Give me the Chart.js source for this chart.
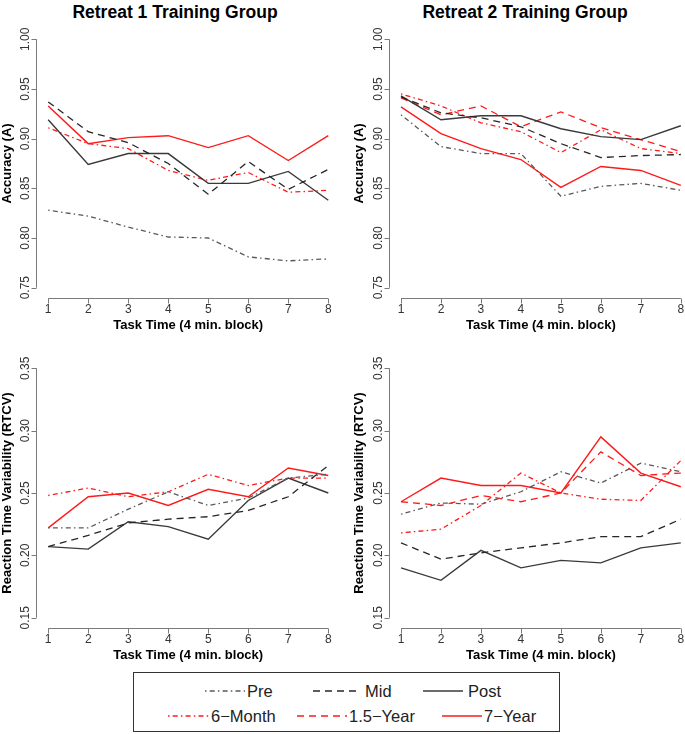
<!DOCTYPE html>
<html>
<head>
<meta charset="utf-8">
<script src="https://cdn.jsdelivr.net/npm/chart.js@4"></script>
<style>
html,body{margin:0;padding:0;width:685px;height:734px;overflow:hidden;background:#fff;font-family:"Liberation Sans",Arial,Helvetica,sans-serif;}
canvas{position:absolute;}
.title{position:absolute;top:2px;font-weight:bold;font-size:17.5px;line-height:20px;color:#000;white-space:nowrap;transform:translateX(-50%);}
#legend{position:absolute;left:133px;top:672px;}
</style>
</head>
<body>
<div class="title" style="left:175px">Retreat 1 Training Group</div>
<div class="title" style="left:525px">Retreat 2 Training Group</div>
<canvas id="c1" width="345" height="340" style="left:0;top:0"></canvas>
<canvas id="c2" width="355" height="340" style="left:345px;top:0"></canvas>
<canvas id="c3" width="345" height="330" style="left:0;top:340px"></canvas>
<canvas id="c4" width="355" height="330" style="left:345px;top:340px"></canvas>
<svg id="legend" width="428" height="61" xmlns="http://www.w3.org/2000/svg"></svg>
<script>
// ---------- data ----------
const blocks = [1, 2, 3, 4, 5, 6, 7, 8];
const xTickLabels = ['1', '2', '3', '4', '5', '6', '7', '8'];
const accTickLabels = ['0.75', '0.80', '0.85', '0.90', '0.95', '1.00'];
const rtcvTickLabels = ['0.15', '0.20', '0.25', '0.30', '0.35'];
const seriesNames = ['Pre', 'Mid', 'Post', '6\u2212Month', '1.5\u2212Year', '7\u2212Year'];

// Retreat 1 – Accuracy
const r1AccPre  = [0.828, 0.822, 0.811, 0.801, 0.800, 0.781, 0.777, 0.779];
const r1AccMid  = [0.937, 0.907, 0.896, 0.875, 0.844, 0.877, 0.849, 0.869];
const r1AccPost = [0.919, 0.874, 0.885, 0.885, 0.855, 0.855, 0.867, 0.838];
const r1Acc6M   = [0.911, 0.895, 0.890, 0.868, 0.858, 0.866, 0.846, 0.848];
const r1Acc7Y   = [0.933, 0.895, 0.901, 0.903, 0.891, 0.903, 0.878, 0.903];

// Retreat 2 – Accuracy
const r2AccPre  = [0.924, 0.892, 0.885, 0.885, 0.842, 0.852, 0.855, 0.848];
const r2AccMid  = [0.942, 0.926, 0.921, 0.912, 0.895, 0.881, 0.883, 0.884];
const r2AccPost = [0.943, 0.919, 0.923, 0.923, 0.910, 0.902, 0.899, 0.913];
const r2Acc6M   = [0.945, 0.933, 0.916, 0.907, 0.886, 0.909, 0.890, 0.885];
const r2Acc15Y  = [0.941, 0.924, 0.933, 0.912, 0.927, 0.911, 0.899, 0.887];
const r2Acc7Y   = [0.932, 0.905, 0.890, 0.879, 0.851, 0.872, 0.868, 0.853];

// Retreat 1 – RTCV
const r1RtPre  = [0.222, 0.222, 0.237, 0.251, 0.240, 0.246, 0.262, 0.265];
const r1RtMid  = [0.207, 0.216, 0.226, 0.229, 0.231, 0.236, 0.247, 0.272];
const r1RtPost = [0.207, 0.205, 0.227, 0.223, 0.213, 0.244, 0.262, 0.250];
const r1Rt6M   = [0.248, 0.254, 0.247, 0.251, 0.265, 0.256, 0.262, 0.262];
const r1Rt7Y   = [0.222, 0.247, 0.250, 0.240, 0.253, 0.247, 0.270, 0.264];

// Retreat 2 – RTCV
const r2RtPre  = [0.233, 0.242, 0.241, 0.251, 0.267, 0.258, 0.274, 0.267];
const r2RtMid  = [0.210, 0.197, 0.202, 0.206, 0.210, 0.215, 0.215, 0.229];
const r2RtPost = [0.190, 0.180, 0.204, 0.190, 0.196, 0.194, 0.206, 0.210];
const r2Rt6M   = [0.218, 0.221, 0.240, 0.266, 0.250, 0.245, 0.244, 0.276];
const r2Rt15Y  = [0.243, 0.240, 0.248, 0.243, 0.250, 0.283, 0.264, 0.266];
const r2Rt7Y   = [0.243, 0.262, 0.256, 0.256, 0.250, 0.295, 0.266, 0.255];

// ---------- styles ----------
const DOTDASH = [1.5, 3.2, 5, 3.2];
const DASHED = [7, 5];
const styles = {
  'Pre':         {color: '#5a5a5a', dash: DOTDASH, width: 1.3},
  'Mid':         {color: '#262626', dash: DASHED,  width: 1.3},
  'Post':        {color: '#3a3a3a', dash: [],      width: 1.4},
  '6\u2212Month':{color: '#ff1a1a', dash: DOTDASH, width: 1.3},
  '1.5\u2212Year':{color: '#ff1a1a', dash: DASHED, width: 1.3},
  '7\u2212Year': {color: '#ff1a1a', dash: [],      width: 1.4}
};
const FONT = '"Liberation Sans", Arial, Helvetica, sans-serif';

const rAxes = {
  id: 'rAxes',
  afterDraw(chart, args, o) {
    const ctx = chart.ctx, xs = chart.scales.x, ys = chart.scales.y, ca = chart.chartArea;
    ctx.save();
    ctx.strokeStyle = '#7a7a7a';
    ctx.lineWidth = 1;
    // x axis
    const yb = Math.round(ca.bottom) + 0.5;
    const xa = xs.getPixelForValue(Number(xTickLabels[0]));
    const xb = xs.getPixelForValue(Number(xTickLabels[xTickLabels.length - 1]));
    ctx.beginPath();
    ctx.moveTo(xa, yb); ctx.lineTo(xb, yb);
    xTickLabels.forEach(t => { const p = Math.round(xs.getPixelForValue(Number(t))) + 0.5; ctx.moveTo(p, yb); ctx.lineTo(p, yb + 5); });
    // y axis
    const xl = Math.round(ca.left) - 0.5;
    const ya = ys.getPixelForValue(Number(o.yTicks[0]));
    const yz = ys.getPixelForValue(Number(o.yTicks[o.yTicks.length - 1]));
    ctx.moveTo(xl, ya); ctx.lineTo(xl, yz);
    o.yTicks.forEach(t => { const p = Math.round(ys.getPixelForValue(Number(t))) + 0.5; ctx.moveTo(xl, p); ctx.lineTo(xl - 5, p); });
    ctx.stroke();
    // tick labels
    ctx.fillStyle = '#333';
    ctx.font = '12px ' + FONT;
    ctx.textAlign = 'center';
    ctx.textBaseline = 'middle';
    xTickLabels.forEach(t => ctx.fillText(t, xs.getPixelForValue(Number(t)), yb + 11));
    o.yTicks.forEach(t => {
      ctx.save();
      ctx.translate(xl - 10.5, ys.getPixelForValue(Number(t)));
      ctx.rotate(-Math.PI / 2);
      ctx.fillText(t, 0, 0);
      ctx.restore();
    });
    // axis titles
    ctx.fillStyle = '#000';
    ctx.font = 'bold 13px ' + FONT;
    ctx.fillText(o.xTitle, (ca.left + ca.right) / 2, ca.bottom + 27.5);
    ctx.save();
    ctx.translate(ca.left - 30, (ca.top + ca.bottom) / 2);
    ctx.rotate(-Math.PI / 2);
    ctx.fillText(o.yTitle, 0, 0);
    ctx.restore();
    ctx.restore();
  }
};

function makeChart(id, series, yMin, yMax, yTicks, yTitle, pad) {
  const datasets = series.map(([name, vals]) => ({
    label: name,
    data: blocks.map((b, i) => ({x: b, y: vals[i]})),
    borderColor: styles[name].color,
    borderDash: styles[name].dash,
    borderWidth: styles[name].width,
    pointRadius: 0,
    fill: false,
    tension: 0
  }));
  return new Chart(document.getElementById(id), {
    type: 'line',
    data: {datasets},
    options: {
      responsive: false,
      animation: false,
      devicePixelRatio: 1,
      layout: {padding: pad},
      plugins: {
        legend: {display: false},
        tooltip: {enabled: false},
        rAxes: {yTicks, yTitle, xTitle: 'Task Time (4 min. block)'}
      },
      scales: {
        x: {type: 'linear', min: 0.72, max: 8.28, display: false},
        y: {type: 'linear', min: yMin, max: yMax, display: false}
      }
    },
    plugins: [rAxes]
  });
}

const padTL = {left: 37, right: 5.5, top: 29.4, bottom: 42.4};
const padTR = {left: 44.8, right: 8, top: 29.4, bottom: 42.4};
const padBL = {left: 37, right: 5.5, top: 18.3, bottom: 42.3};
const padBR = {left: 44.8, right: 8, top: 18.3, bottom: 42.3};

makeChart('c1', [['Pre', r1AccPre], ['Mid', r1AccMid], ['Post', r1AccPost], ['6\u2212Month', r1Acc6M], ['7\u2212Year', r1Acc7Y]],
  0.74, 1.01, accTickLabels, 'Accuracy (A)', padTL);
makeChart('c2', [['Pre', r2AccPre], ['Mid', r2AccMid], ['Post', r2AccPost], ['6\u2212Month', r2Acc6M], ['1.5\u2212Year', r2Acc15Y], ['7\u2212Year', r2Acc7Y]],
  0.74, 1.01, accTickLabels, 'Accuracy (A)', padTR);
makeChart('c3', [['Pre', r1RtPre], ['Mid', r1RtMid], ['Post', r1RtPost], ['6\u2212Month', r1Rt6M], ['7\u2212Year', r1Rt7Y]],
  0.142, 0.358, rtcvTickLabels, 'Reaction Time Variability (RTCV)', padBL);
makeChart('c4', [['Pre', r2RtPre], ['Mid', r2RtMid], ['Post', r2RtPost], ['6\u2212Month', r2Rt6M], ['1.5\u2212Year', r2Rt15Y], ['7\u2212Year', r2Rt7Y]],
  0.142, 0.358, rtcvTickLabels, 'Reaction Time Variability (RTCV)', padBR);

// ---------- legend ----------
const legendLayout = [
  {x0: 72, x1: 112, tx: 114, y: 19},
  {x0: 180, x1: 227, tx: 232, y: 19},
  {x0: 290, x1: 330, tx: 335, y: 19},
  {x0: 35, x1: 77, tx: 78, y: 44},
  {x0: 164, x1: 214, tx: 216, y: 44},
  {x0: 309, x1: 349, tx: 351, y: 44}
];
const svg = document.getElementById('legend');
const NS = 'http://www.w3.org/2000/svg';
const rect = document.createElementNS(NS, 'rect');
rect.setAttribute('x', '0.5'); rect.setAttribute('y', '0.5');
rect.setAttribute('width', '426'); rect.setAttribute('height', '59');
rect.setAttribute('fill', '#fff'); rect.setAttribute('stroke', '#333'); rect.setAttribute('stroke-width', '1');
svg.appendChild(rect);
seriesNames.forEach((name, i) => {
  const L = legendLayout[i], s = styles[name];
  const ln = document.createElementNS(NS, 'line');
  ln.setAttribute('x1', L.x0); ln.setAttribute('x2', L.x1);
  ln.setAttribute('y1', L.y); ln.setAttribute('y2', L.y);
  ln.setAttribute('stroke', s.color); ln.setAttribute('stroke-width', s.width);
  if (s.dash.length) ln.setAttribute('stroke-dasharray', s.dash.join(' '));
  svg.appendChild(ln);
  const tx = document.createElementNS(NS, 'text');
  tx.setAttribute('x', L.tx); tx.setAttribute('y', L.y + 6);
  tx.setAttribute('font-family', FONT.replace(/"/g, "'"));
  tx.setAttribute('font-size', '16.5');
  tx.setAttribute('fill', '#222');
  tx.textContent = name;
  svg.appendChild(tx);
});
</script>
</body>
</html>
